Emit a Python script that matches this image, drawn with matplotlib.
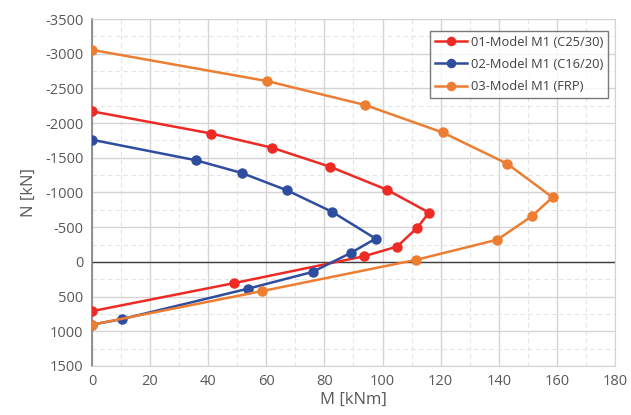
import matplotlib
matplotlib.use("Agg")
import matplotlib.pyplot as plt
from matplotlib.ticker import MultipleLocator, FuncFormatter

plt.rcParams['font.family'] = ['Open Sans', 'DejaVu Sans']

# Data (M [kNm], N [kN])
m_c2530 = [0, 41, 62, 82, 101.5, 116, 112, 105, 93.5, 49, 0]
n_c2530 = [-2170, -1850, -1645, -1370, -1040, -710, -495, -220, -80, 305, 710]

m_c1620 = [0, 35.7, 51.5, 67.2, 82.7, 97.6, 89.1, 75.9, 53.8, 10.2, 0]
n_c1620 = [-1760, -1465, -1282, -1030, -720, -335, -130, 145, 385, 825, 905]

m_frp = [0, 60.3, 93.9, 120.7, 142.9, 158.5, 151.3, 139.5, 111.6, 58.6, 0]
n_frp = [-3055, -2605, -2262, -1865, -1415, -930, -655, -320, -30, 420, 905]

labels = ["01-Model M1 (C25/30)", "02-Model M1 (C16/20)", "03-Model M1 (FRP)"]
colors = ["#EE2A24", "#2F4D9E", "#ED7D31"]

fig = plt.figure(figsize=(6.31, 4.15), dpi=100)
ax = fig.add_axes([0.1458, 0.1181, 0.8288, 0.8361])

for m, n, lab, c in zip([m_c2530, m_c1620, m_frp], [n_c2530, n_c1620, n_frp], labels, colors):
    ax.plot(m, n, color=c, lw=1.8, marker='o', ms=6.5, label=lab, zorder=3)

ax.set_xlim(0, 180)
ax.set_ylim(1500, -3500)
ax.xaxis.set_major_locator(MultipleLocator(20))
ax.xaxis.set_minor_locator(MultipleLocator(10))
ax.yaxis.set_major_locator(MultipleLocator(500))
ax.yaxis.set_minor_locator(MultipleLocator(250))
ax.yaxis.set_major_formatter(FuncFormatter(lambda v, p: f"{int(v)}"))

ax.grid(which='major', color='#d4d4d4', lw=1.0, ls='-', zorder=0)
ax.grid(which='minor', color='#e4e4e4', lw=0.8, ls=(0, (4, 3)), zorder=0)
ax.axhline(0, color='#404040', lw=1.0, zorder=2)

for s in ['top', 'right', 'bottom']:
    ax.spines[s].set_color('#d4d4d4')
ax.spines['left'].set_color('#7f7f7f')
ax.spines['left'].set_linewidth(1.2)

ax.tick_params(which='both', length=0, colors='#595959', labelsize=10.5, pad=6)

ax.set_xlabel("M [kNm]", fontsize=12, color='#595959', labelpad=2)
ax.set_ylabel("N [kN]", fontsize=12, color='#595959', labelpad=6)

leg = ax.legend(loc='upper right', bbox_to_anchor=(0.9866, 0.9654), borderaxespad=0,
                fontsize=9.3, frameon=True, fancybox=False, edgecolor='#595959',
                handlelength=2.5, handletextpad=0.3, borderpad=0.35,
                labelspacing=0.72, markerscale=0.9)
leg.get_frame().set_linewidth(1.0)
for t in leg.get_texts():
    t.set_color('#404040')

fig.savefig("out.png", dpi=100)
